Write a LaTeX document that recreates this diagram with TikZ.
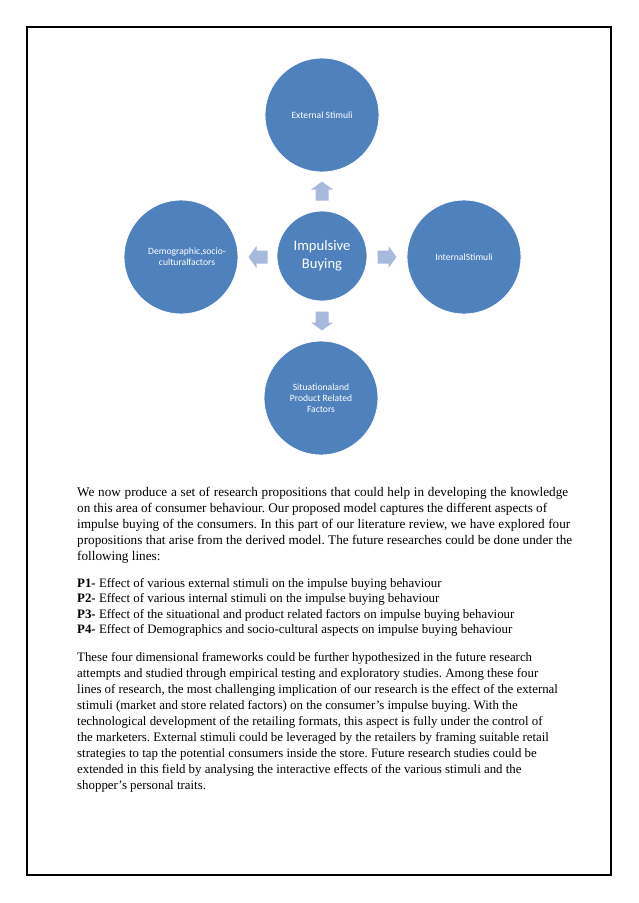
\documentclass[tikz,border=0pt]{standalone}
\usepackage{fontspec}
\setmainfont{Liberation Serif}
\newfontfamily\calib{Carlito}
\definecolor{circfill}{HTML}{4F81BD}
\definecolor{arrfill}{HTML}{A7B9DC}
\frenchspacing
\begin{document}
\begin{tikzpicture}[x=1pt,y=-1pt,
  bubble/.style={circle, fill=circfill, draw=white, line width=0.8pt, minimum size=114pt, inner sep=0pt, text=white, font=\calib\fontsize{9.6}{10.8}\selectfont, align=center},
  hub/.style={bubble, minimum size=90pt, font=\calib\fontsize{14.6}{18}\selectfont},
  txt/.style={anchor=base west, inner sep=0pt, font=\fontsize{12.87}{16}\selectfont},
  wtxt/.style={txt, font=\fontsize{13.2}{16}\selectfont},
  blockarrow/.pic={\fill[arrfill] (-9.5,-6.5) -- (1.5,-6.5) -- (1.5,-11) -- (9.5,0) -- (1.5,11) -- (1.5,6.5) -- (-9.5,6.5) -- cycle;}
]
\fill[white] (0,0) rectangle (638,903);
\useasboundingbox (0,0) rectangle (638,903);
\draw[line width=2pt] (26.5,26.5) rectangle (611,874.5);

\node[hub] (ib) at (322,256) {Impulsive\\Buying};
\node[bubble] (ext) at (322,115) {External Stimuli};
\node[bubble] (int) at (464,257) {InternalStimuli};
\node[bubble] (sit) at (321,398) {Situationaland\\Product Related\\Factors};
\node[bubble] (dem) at (181,257) {\hspace*{12pt}Demographic,socio-\\\hspace*{12pt}culturalfactors};

\pic[rotate=90] at (322,191) {blockarrow};
\pic at (387,257) {blockarrow};
\pic[rotate=-90] at (322,321) {blockarrow};
\pic[rotate=180] at (258,257) {blockarrow};

\node[wtxt] (a1) at (77,496) {\makebox[491pt][s]{We now produce a set of research propositions that could help in developing the knowledge}};
\node[wtxt] (a2) at (77,512) {\makebox[470pt][s]{on this area of consumer behaviour. Our proposed model captures the different aspects of}};
\node[wtxt] (a3) at (77,528) {\makebox[493pt][s]{impulse buying of the consumers. In this part of our literature review, we have explored four}};
\node[wtxt] (a4) at (77,544) {\makebox[495pt][s]{propositions that arise from the derived model. The future researches could be done under the}};
\node[wtxt] (a5) at (77,560) {following lines:};

\node[txt] (b1) at (77,587) {\textbf{P1-} Effect of various external stimuli on the impulse buying behaviour};
\node[txt] (b2) at (77,602.5) {\textbf{P2-} Effect of various internal stimuli on the impulse buying behaviour};
\node[txt] (b3) at (77,618) {\textbf{P3-} Effect of the situational and product related factors on impulse buying behaviour};
\node[txt] (b4) at (77,633.5) {\textbf{P4-} Effect of Demographics and socio-cultural aspects on impulse buying behaviour};

\node[txt] (c1) at (77,661) {These four dimensional frameworks could be further hypothesized in the future research};
\node[txt] (c2) at (77,677) {attempts and studied through empirical testing and exploratory studies. Among these four};
\node[txt] (c3) at (77,693) {lines of research, the most challenging implication of our research is the effect of the external};
\node[txt] (c4) at (77,709) {stimuli (market and store related factors) on the consumer’s impulse buying. With the};
\node[txt] (c5) at (77,725) {technological development of the retailing formats, this aspect is fully under the control of};
\node[txt] (c6) at (77,741) {the marketers. External stimuli could be leveraged by the retailers by framing suitable retail};
\node[txt] (c7) at (77,757) {strategies to tap the potential consumers inside the store. Future research studies could be};
\node[txt] (c8) at (77,773) {extended in this field by analysing the interactive effects of the various stimuli and the};
\node[txt] (c9) at (77,789) {shopper’s personal traits.};
\end{tikzpicture}
\end{document}
